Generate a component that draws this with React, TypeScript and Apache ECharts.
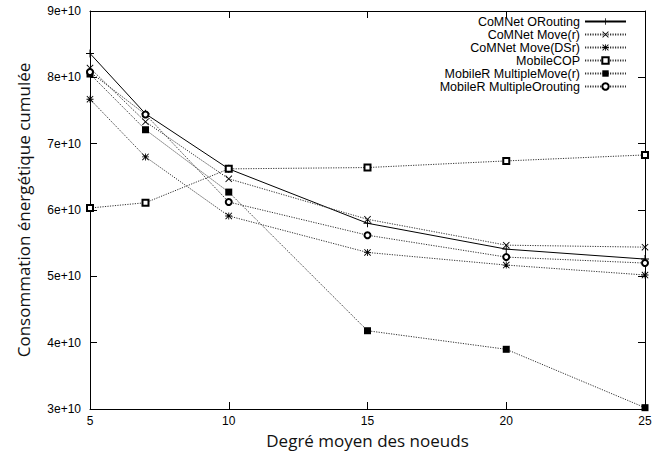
import React, { useEffect, useRef } from "react";
import * as echarts from "echarts";

const degrees = [5, 7, 10, 15, 20, 25];
const seriesNames = [
  "CoMNet ORouting",
  "CoMNet Move(r)",
  "CoMNet Move(DSr)",
  "MobileCOP",
  "MobileR MultipleMove(r)",
  "MobileR MultipleOrouting",
];
const comnetORouting = [8.36e10, 7.45e10, 6.62e10, 5.8e10, 5.41e10, 5.26e10];
const comnetMoveR = [8.14e10, 7.33e10, 6.47e10, 5.86e10, 5.47e10, 5.44e10];
const comnetMoveDSr = [7.67e10, 6.8e10, 5.91e10, 5.36e10, 5.17e10, 5.02e10];
const mobileCOP = [6.03e10, 6.11e10, 6.62e10, 6.64e10, 6.74e10, 6.83e10];
const mobileRMultipleMoveR = [8.05e10, 7.21e10, 6.27e10, 4.18e10, 3.9e10, 3.02e10];
const mobileRMultipleOrouting = [8.08e10, 7.44e10, 6.12e10, 5.62e10, 5.29e10, 5.2e10];
const yTickValues = [3e10, 4e10, 5e10, 6e10, 7e10, 8e10, 9e10];

const PLUS =
  "path://M4.4,0L5.6,0L5.6,4.4L10,4.4L10,5.6L5.6,5.6L5.6,10L4.4,10L4.4,5.6L0,5.6L0,4.4L4.4,4.4Z";
const CROSS =
  "path://M0,0.9L0.9,0L5,4.1L9.1,0L10,0.9L5.9,5L10,9.1L9.1,10L5,5.9L0.9,10L0,9.1L4.1,5Z";
const STAR =
  "path://M4.4,0L5.6,0L5.6,4.4L10,4.4L10,5.6L5.6,5.6L5.6,10L4.4,10L4.4,5.6L0,5.6L0,4.4L4.4,4.4Z" +
  "M0,0.9L0.9,0L5,4.1L9.1,0L10,0.9L5.9,5L10,9.1L9.1,10L5,5.9L0.9,10L0,9.1L4.1,5Z";

const FONT = "Liberation Sans, Arial, sans-serif";
const TITLE_FONT = "Open Sans, Noto Sans, sans-serif";

export default function App() {
  const ref = useRef<HTMLDivElement>(null);
  useEffect(() => {
    if (!ref.current) return;
    const chart = echarts.init(ref.current, null, { renderer: "svg" });
    const dotted = { color: "#333", width: 1, type: [1.2, 1.3] as number[] };
    const solid = { color: "#000", width: 1, type: "solid" as const };
    const pair = (ys: number[]) => degrees.map((d, i) => [d, ys[i]]);
    const mk = (name: string, ys: number[], symbol: string, size: number, line: any, bw: number) => ({
      name,
      type: "line",
      data: pair(ys),
      symbol,
      symbolSize: size,
      showSymbol: true,
      lineStyle: line,
      itemStyle: { color: "#000", borderColor: "#000", borderWidth: bw },
      emphasis: { disabled: true },
    });
    const yMin = yTickValues[0];
    const yMax = yTickValues[yTickValues.length - 1];
    const yInterval = yTickValues[1] - yTickValues[0];
    const axisCommon = {
      axisLine: { show: true, lineStyle: { color: "#000", width: 1 } },
      axisTick: { show: true, inside: true, length: 7, lineStyle: { color: "#000" } },
      splitLine: { show: false },
    };
    chart.setOption({
      animation: false,
      backgroundColor: "#fff",
      grid: { left: 90, right: 7, top: 11, bottom: 48, containLabel: false, outerBoundsMode: "none" },
      legend: {
        orient: "vertical",
        right: 25,
        top: 15,
        padding: 0,
        align: "right",
        itemWidth: 41,
        itemHeight: 8,
        itemGap: 0,
        data: seriesNames,
        textStyle: { fontFamily: FONT, fontSize: 12.5, color: "#000", lineHeight: 13 },
        inactiveColor: "#000",
        selectedMode: false,
      },
      xAxis: [
        {
          type: "value",
          min: 5,
          max: 25,
          interval: 5,
          ...axisCommon,
          axisLabel: { color: "#000", fontFamily: FONT, fontSize: 12, margin: 6 },
          name: "Degré moyen des noeuds",
          nameLocation: "middle",
          nameGap: 21,
          nameTextStyle: { fontFamily: TITLE_FONT, fontSize: 17, color: "#111" },
        },
        {
          type: "value",
          position: "top",
          min: 5,
          max: 25,
          interval: 5,
          ...axisCommon,
          axisLabel: { show: false },
        },
      ],
      yAxis: [
        {
          type: "value",
          min: yMin,
          max: yMax,
          interval: yInterval,
          ...axisCommon,
          axisLabel: {
            color: "#000",
            fontFamily: FONT,
            fontSize: 12,
            margin: 9,
            formatter: (v: number) => `${Math.round(v / 1e10)}e+10`,
          },
          name: "Consommation énergétique cumulée",
          nameLocation: "middle",
          nameGap: 58,
          nameTextStyle: { fontFamily: TITLE_FONT, fontSize: 17, color: "#111" },
        },
        {
          type: "value",
          position: "right",
          min: yMin,
          max: yMax,
          interval: yInterval,
          ...axisCommon,
          axisLabel: { show: false },
        },
      ],
      series: [
        mk(seriesNames[0], comnetORouting, PLUS, 8, solid, 0),
        mk(seriesNames[1], comnetMoveR, CROSS, 7, dotted, 0),
        mk(seriesNames[2], comnetMoveDSr, STAR, 7, dotted, 0),
        mk(seriesNames[3], mobileCOP, "emptyRect", 6, dotted, 0.8),
        mk(seriesNames[4], mobileRMultipleMoveR, "rect", 7, dotted, 0),
        mk(seriesNames[5], mobileRMultipleOrouting, "emptyCircle", 6, dotted, 0.8),
      ],
    });
    return () => chart.dispose();
  }, []);
  return (
    <div
      ref={ref}
      style={{ position: "fixed", left: 0, top: 0, width: 652, height: 457, background: "#fff" }}
    />
  );
}
